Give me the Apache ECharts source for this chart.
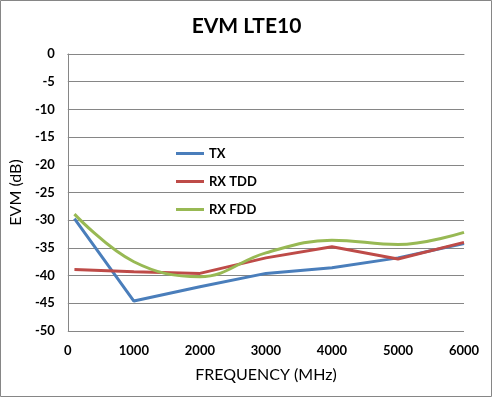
<!DOCTYPE html>
<html>
<head>
<meta charset="utf-8">
<script src="https://cdn.jsdelivr.net/npm/echarts@6/dist/echarts.min.js"></script>
<style>
html,body{margin:0;padding:0;background:#fff;}
#chart{width:493px;height:398px;}
</style>
</head>
<body>
<div id="chart"></div>
<script>
// 数据
let freqs = [100, 1000, 2000, 3000, 4000, 5000, 6000];
let txVals = [-29.7, -44.6, -42.0, -39.6, -38.6, -36.8, -34.2];
let rxTddVals = [-38.9, -39.3, -39.6, -36.8, -34.8, -37.0, -34.0];
let rxFddVals = [-28.9, -37.5, -40.2, -35.9, -33.6, -34.4, -32.2];
let seriesNames = ["TX", "RX TDD", "RX FDD"];
let colors = ["#4a7ebb", "#be4b48", "#98b954"];

function pairs(xs, ys) {
	let out = [];
	for (let i = 0; i < xs.length; i++) {
		out.push([xs[i], ys[i]]);
	}
	return out;
}

let font = "Lato, 'Liberation Sans', sans-serif";
let myChart = echarts.init(document.getElementById("chart"));
let option = {
	color: colors,
	animation: false,
	title: {
		text: "EVM LTE10",
		left: "center",
		top: 11,
		textStyle: {fontFamily: font, fontSize: 21, fontWeight: "bold", color: "#000"}
	},
	graphic: [{
		type: "rect",
		shape: {x: 0.5, y: 0.5, width: 491, height: 396},
		style: {fill: "none", stroke: "#868686", lineWidth: 1},
		silent: true
	}],
	grid: {left: 63, right: 29, top: 54, bottom: 67},
	legend: {
		orient: "vertical",
		left: 171,
		top: 142,
		itemGap: 15,
		itemWidth: 28,
		itemHeight: 12,
		icon: "path://M0,5 L28,5 L28,8 L0,8 Z",
		textStyle: {fontFamily: font, fontSize: 13, fontWeight: "bold", color: "#000"},
		data: seriesNames
	},
	xAxis: {
		type: "value",
		min: 0,
		max: 6000,
		interval: 1000,
		name: "FREQUENCY (MHz)",
		nameLocation: "middle",
		nameGap: 36,
		nameTextStyle: {fontFamily: font, fontSize: 16, color: "#000"},
		axisLine: {lineStyle: {color: "#868686"}},
		axisTick: {show: false},
		axisLabel: {
			fontFamily: font, fontSize: 13, fontWeight: "bold", color: "#000", margin: 13,
			formatter: function (v) { return String(v); }
		},
		splitLine: {show: false}
	},
	yAxis: {
		type: "value",
		min: -50,
		max: 0,
		interval: 5,
		name: "EVM (dB)",
		nameLocation: "middle",
		nameGap: 40,
		nameTextStyle: {fontFamily: font, fontSize: 16, color: "#000"},
		axisLine: {show: true, lineStyle: {color: "#868686"}},
		axisTick: {show: false},
		axisLabel: {fontFamily: font, fontSize: 13, fontWeight: "bold", color: "#000", margin: 13},
		splitLine: {lineStyle: {color: "#868686"}}
	},
	series: [{
		name: seriesNames[0],
		type: "line",
		data: pairs(freqs, txVals),
		showSymbol: false,
		lineStyle: {width: 3}
	}, {
		name: seriesNames[1],
		type: "line",
		data: pairs(freqs, rxTddVals),
		showSymbol: false,
		lineStyle: {width: 3}
	}, {
		name: seriesNames[2],
		type: "line",
		data: pairs(freqs, rxFddVals),
		smooth: 0.4,
		showSymbol: false,
		lineStyle: {width: 3}
	}]
};
myChart.setOption(option);
</script>
</body>
</html>
